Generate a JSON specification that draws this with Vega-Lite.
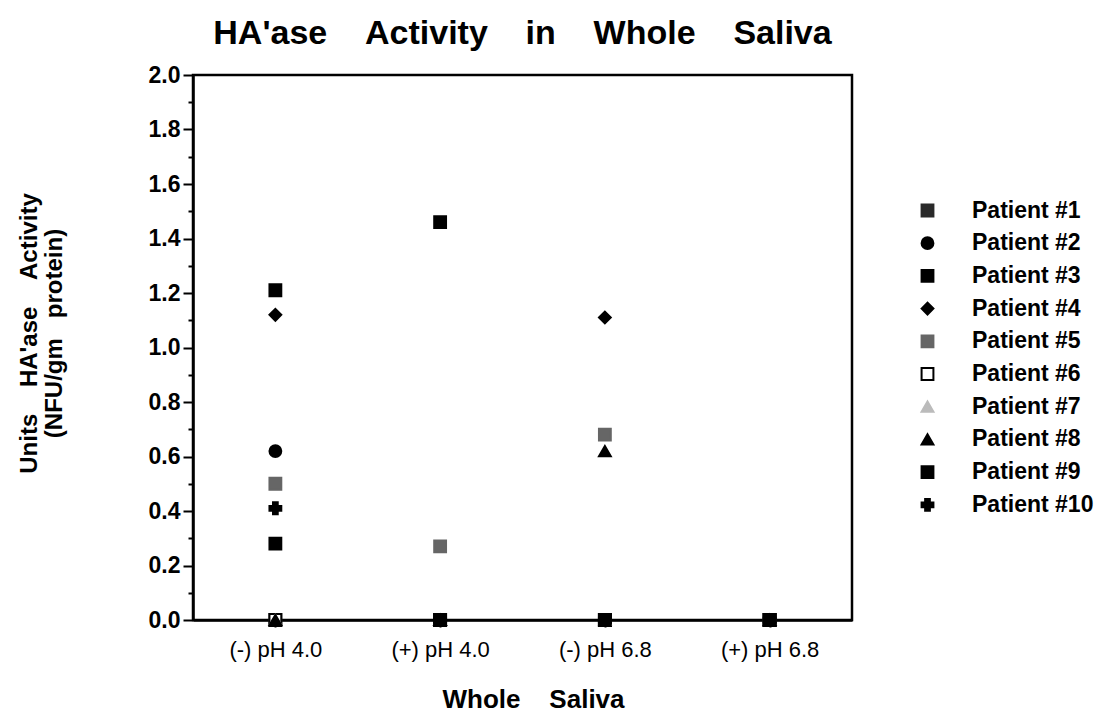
{
  "$schema": "https://vega.github.io/schema/vega-lite/v6.json",
  "width": 659,
  "height": 545,
  "autosize": {"type": "none"},
  "padding": {"left": 193, "top": 75, "right": 249, "bottom": 94},
  "background": "white",
  "title": {
    "text": "HA'ase\u00a0\u00a0\u00a0\u00a0Activity\u00a0\u00a0\u00a0\u00a0in\u00a0\u00a0\u00a0\u00a0Whole\u00a0\u00a0\u00a0\u00a0Saliva",
    "font": "Liberation Sans",
    "fontSize": 34,
    "fontWeight": "bold",
    "color": "black",
    "offset": 13,
    "anchor": "middle"
  },
  "config": {
    "view": {"stroke": "black", "strokeWidth": 2.5},
    "font": "Liberation Sans"
  },
  "data": {
    "values": [
      {"condition": "(-) pH 4.0", "patient": "Patient #1", "activity": 0},
      {"condition": "(-) pH 4.0", "patient": "Patient #6", "activity": 0},
      {"condition": "(-) pH 4.0", "patient": "Patient #7", "activity": 0},
      {"condition": "(-) pH 4.0", "patient": "Patient #8", "activity": 0},
      {"condition": "(-) pH 4.0", "patient": "Patient #2", "activity": 0.62},
      {"condition": "(-) pH 4.0", "patient": "Patient #3", "activity": 1.21},
      {"condition": "(-) pH 4.0", "patient": "Patient #4", "activity": 1.12},
      {"condition": "(-) pH 4.0", "patient": "Patient #5", "activity": 0.5},
      {"condition": "(-) pH 4.0", "patient": "Patient #9", "activity": 0.28},
      {"condition": "(-) pH 4.0", "patient": "Patient #10", "activity": 0.41},
      {"condition": "(+) pH 4.0", "patient": "Patient #1", "activity": 0},
      {"condition": "(+) pH 4.0", "patient": "Patient #2", "activity": 0},
      {"condition": "(+) pH 4.0", "patient": "Patient #4", "activity": 0},
      {"condition": "(+) pH 4.0", "patient": "Patient #6", "activity": 0},
      {"condition": "(+) pH 4.0", "patient": "Patient #7", "activity": 0},
      {"condition": "(+) pH 4.0", "patient": "Patient #8", "activity": 0},
      {"condition": "(+) pH 4.0", "patient": "Patient #9", "activity": 0},
      {"condition": "(+) pH 4.0", "patient": "Patient #10", "activity": 0},
      {"condition": "(+) pH 4.0", "patient": "Patient #3", "activity": 1.46},
      {"condition": "(+) pH 4.0", "patient": "Patient #5", "activity": 0.27},
      {"condition": "(-) pH 6.8", "patient": "Patient #1", "activity": 0},
      {"condition": "(-) pH 6.8", "patient": "Patient #2", "activity": 0},
      {"condition": "(-) pH 6.8", "patient": "Patient #3", "activity": 0},
      {"condition": "(-) pH 6.8", "patient": "Patient #6", "activity": 0},
      {"condition": "(-) pH 6.8", "patient": "Patient #7", "activity": 0},
      {"condition": "(-) pH 6.8", "patient": "Patient #9", "activity": 0},
      {"condition": "(-) pH 6.8", "patient": "Patient #10", "activity": 0},
      {"condition": "(-) pH 6.8", "patient": "Patient #4", "activity": 1.11},
      {"condition": "(-) pH 6.8", "patient": "Patient #5", "activity": 0.68},
      {"condition": "(-) pH 6.8", "patient": "Patient #8", "activity": 0.62},
      {"condition": "(+) pH 6.8", "patient": "Patient #1", "activity": 0},
      {"condition": "(+) pH 6.8", "patient": "Patient #2", "activity": 0},
      {"condition": "(+) pH 6.8", "patient": "Patient #3", "activity": 0},
      {"condition": "(+) pH 6.8", "patient": "Patient #4", "activity": 0},
      {"condition": "(+) pH 6.8", "patient": "Patient #5", "activity": 0},
      {"condition": "(+) pH 6.8", "patient": "Patient #6", "activity": 0},
      {"condition": "(+) pH 6.8", "patient": "Patient #7", "activity": 0},
      {"condition": "(+) pH 6.8", "patient": "Patient #8", "activity": 0},
      {"condition": "(+) pH 6.8", "patient": "Patient #9", "activity": 0},
      {"condition": "(+) pH 6.8", "patient": "Patient #10", "activity": 0}
    ]
  },
  "mark": {"type": "point", "filled": true, "clip": false, "opacity": 1, "strokeWidth": 2, "size": 140},
  "encoding": {
    "x": {
      "field": "condition",
      "type": "ordinal",
      "sort": ["(-) pH 4.0", "(+) pH 4.0", "(-) pH 6.8", "(+) pH 6.8"],
      "scale": {"type": "point", "padding": 0.5},
      "axis": {
        "labelAngle": 0,
        "labelFont": "Liberation Sans",
        "labelFontSize": 22,
        "labelColor": "black",
        "labelPadding": 12,
        "tickSize": 7,
        "tickWidth": 2,
        "tickColor": "black",
        "domainWidth": 2.5,
        "domainColor": "black",
        "grid": false,
        "title": "Whole\u00a0\u00a0\u00a0\u00a0Saliva",
        "titleFont": "Liberation Sans",
        "titleFontSize": 26,
        "titleFontWeight": "bold",
        "titleColor": "black",
        "titlePadding": 26,
        "titleX": 340
      }
    },
    "y": {
      "field": "activity",
      "type": "quantitative",
      "scale": {"domain": [0, 2], "nice": false},
      "axis": {
        "values": [0, 0.1, 0.2, 0.3, 0.4, 0.5, 0.6, 0.7, 0.8, 0.9, 1.0, 1.1, 1.2, 1.3, 1.4, 1.5, 1.6, 1.7, 1.8, 1.9, 2.0],
        "labelExpr": "round(datum.value*10)%2==0 ? format(datum.value,'.1f') : ''",
        "tickSize": {"condition": {"test": "round(datum.value*10)%2==0", "value": 10}, "value": 5},
        "tickWidth": 2,
        "tickColor": "black",
        "domainWidth": 2.5,
        "domainColor": "black",
        "grid": false,
        "labelFont": "Liberation Sans",
        "labelFontSize": 23,
        "labelFontWeight": "bold",
        "labelColor": "black",
        "labelPadding": 3,
        "labelOverlap": false,
        "title": ["Units\u00a0\u00a0\u00a0\u00a0HA'ase\u00a0\u00a0\u00a0\u00a0Activity", "(NFU/gm\u00a0\u00a0\u00a0protein)"],
        "titleFont": "Liberation Sans",
        "titleFontSize": 24,
        "titleFontWeight": "bold",
        "titleColor": "black",
        "titleLineHeight": 25,
        "titlePadding": 82,
        "titleY": 258
      }
    },
    "shape": {
      "field": "patient",
      "type": "nominal",
      "scale": {
        "domain": ["Patient #1", "Patient #2", "Patient #3", "Patient #4", "Patient #5", "Patient #6", "Patient #7", "Patient #8", "Patient #9", "Patient #10"],
        "range": ["square", "circle", "square", "diamond", "square", "square", "triangle-up", "triangle-up", "square", "cross"]
      },
      "legend": {
        "title": null,
        "orient": "none",
        "legendX": 723,
        "legendY": 124,
        "padding": 0,
        "labelFont": "Liberation Sans",
        "labelFontSize": 23,
        "labelFontWeight": "bold",
        "labelColor": "black",
        "labelOffset": 33,
        "rowPadding": 8.7,
        "symbolSize": 140,
        "symbolStrokeWidth": 2
      }
    },
    "fill": {
      "field": "patient",
      "type": "nominal",
      "scale": {
        "domain": ["Patient #1", "Patient #2", "Patient #3", "Patient #4", "Patient #5", "Patient #6", "Patient #7", "Patient #8", "Patient #9", "Patient #10"],
        "range": ["#2a2a2a", "black", "black", "black", "#666666", "white", "#bbbbbb", "black", "black", "black"]
      },
      "legend": {
        "title": null,
        "orient": "none",
        "legendX": 723,
        "legendY": 124,
        "padding": 0,
        "labelFont": "Liberation Sans",
        "labelFontSize": 23,
        "labelFontWeight": "bold",
        "labelColor": "black",
        "labelOffset": 33,
        "rowPadding": 8.7,
        "symbolSize": 140,
        "symbolStrokeWidth": 2
      }
    },
    "stroke": {
      "field": "patient",
      "type": "nominal",
      "scale": {
        "domain": ["Patient #1", "Patient #2", "Patient #3", "Patient #4", "Patient #5", "Patient #6", "Patient #7", "Patient #8", "Patient #9", "Patient #10"],
        "range": ["#2a2a2a", "black", "black", "black", "#666666", "black", "#bbbbbb", "black", "black", "black"]
      },
      "legend": {
        "title": null,
        "orient": "none",
        "legendX": 723,
        "legendY": 124,
        "padding": 0,
        "labelFont": "Liberation Sans",
        "labelFontSize": 23,
        "labelFontWeight": "bold",
        "labelColor": "black",
        "labelOffset": 33,
        "rowPadding": 8.7,
        "symbolSize": 140,
        "symbolStrokeWidth": 2
      }
    }
  }
}
